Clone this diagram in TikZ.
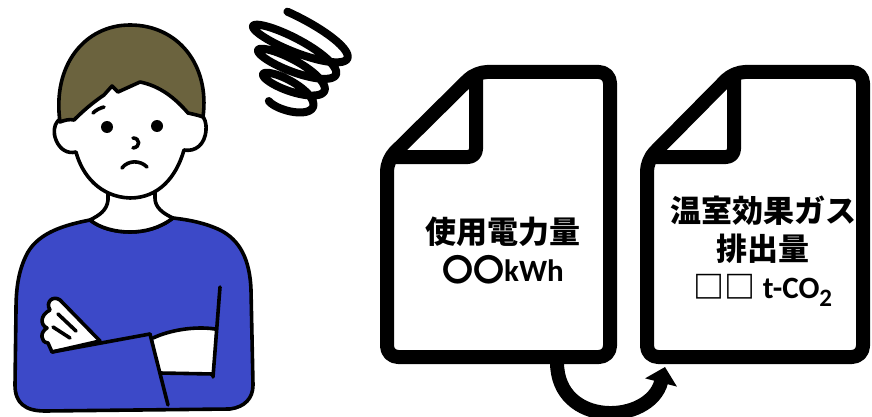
\documentclass[tikz,border=0pt]{standalone}
\usepackage{fontspec}
\setmainfont{Carlito}
\newfontfamily\jp{Noto Sans CJK JP}
\usetikzlibrary{arrows.meta}
\definecolor{hair}{RGB}{107,99,62}
\definecolor{shirt}{RGB}{60,73,200}
\newcommand{\subtwo}{\raisebox{-8pt}{\fontsize{25}{25}\selectfont 2}}
\begin{document}
\begin{tikzpicture}[x=1pt,y=-1pt,
  outline/.style={draw=black,line width=3.6pt,line join=round,line cap=round},
  docshape/.style={draw=black,fill=white,line width=14pt,line join=round,rounded corners=11pt},
  foldline/.style={draw=black,line width=14pt,line join=round,rounded corners=8pt},
  doctext/.style={align=center,font=\fontsize{31}{38}\selectfont\bfseries,inner sep=0pt},
  declare function={sp(\u)=(\u-250)/1340;}]
\useasboundingbox (0,0) rectangle (872,417);

% ---- worried person ----
% body
\filldraw[fill=shirt,outline] (90,220) .. controls (65,225) and (40,232) .. (28,252)
  .. controls (18,270) and (16,290) .. (16,310) -- (15,385)
  .. controls (15,403) and (25,411) .. (45,411) -- (230,409)
  .. controls (245,407) and (253,398) .. (253,385) -- (251,290)
  .. controls (250,260) and (240,240) .. (220,230)
  .. controls (205,223) and (190,220) .. (173,218)
  .. controls (160,228) and (145,232) .. (130,232)
  .. controls (115,232) and (100,228) .. (90,220) -- cycle;
% neck
\fill[white] (108,185) -- (108,200) .. controls (107,210) and (100,215) .. (90,220)
  .. controls (100,228) and (115,232) .. (130,232)
  .. controls (145,232) and (160,228) .. (173,218)
  .. controls (162,213) and (155,207) .. (155,198) -- (155,180) -- cycle;
\draw[outline] (108,188) -- (108,200) .. controls (107,210) and (100,215) .. (90,220)
  .. controls (100,228) and (115,232) .. (130,232)
  .. controls (145,232) and (160,228) .. (173,218)
  .. controls (162,213) and (155,207) .. (155,198) -- (155,188);
% face with ears
\filldraw[fill=white,outline] (75,118) .. controls (60,112) and (50,125) .. (56,140)
  .. controls (60,150) and (68,154) .. (76,152)
  .. controls (82,175) and (100,197) .. (130,198)
  .. controls (158,198) and (176,178) .. (184,150)
  .. controls (195,152) and (205,145) .. (206,130)
  .. controls (207,115) and (198,110) .. (188,113)
  .. controls (180,60) and (80,60) .. (75,118) -- cycle;
% hair
\filldraw[fill=hair,outline] (60,122) .. controls (52,65) and (85,25) .. (130,25)
  .. controls (178,25) and (210,65) .. (203,117)
  .. controls (198,115) and (192,114) .. (188,113)
  .. controls (175,98) and (160,86) .. (140,82) -- (118,92) -- (112,86) -- (104,95)
  .. controls (92,103) and (82,112) .. (74,120)
  .. controls (70,119) and (65,120) .. (60,122) -- cycle;
% face details
\fill (107,127) circle[radius=6];
\fill (157,126) circle[radius=6];
\draw[outline] (93,113) .. controls (96,110) and (100,108) .. (104,107);
\draw[outline] (133,138) .. controls (140,138) and (141,147) .. (133,148);
\draw[outline] (122,168) .. controls (128,160) and (140,160) .. (147,167);
% crossed arms
\filldraw[fill=white,outline] (100,341) -- (60,300) .. controls (53,295) and (45,302) .. (50,310)
  .. controls (40,315) and (40,325) .. (47,328)
  .. controls (40,332) and (40,342) .. (48,343) -- (52,352) -- cycle;
\draw[outline] (58,314) -- (76,331);
\draw[outline] (53,327) -- (70,338);
\draw[outline] (52,352) -- (150,334);
\fill[white] (153,338) .. controls (170,330) and (195,326) .. (215,329) -- (213,374) -- (160,372) -- cycle;
\draw[outline] (153,338) .. controls (170,330) and (195,326) .. (215,329);
\draw[outline] (160,373) -- (213,374);
\draw[outline] (220,287) -- (213,377);
\draw[outline] (150,334) -- (168,405);

% ---- scribble: a tilted spiral narrowing downwards ----
\draw[line width=8pt,line cap=round,line join=round]
  plot[variable=\u,domain=250:1590,samples=360]
  ({300-12*sp(\u)+(56-34*sp(\u))*cos(\u)*cos(25)-(12-3*sp(\u))*sin(\u)*sin(25)},
   {30+75*sp(\u)+(56-34*sp(\u))*cos(\u)*sin(25)+(12-3*sp(\u))*sin(\u)*cos(25)});

% ---- documents with folded corner ----
\draw[docshape] (540,72) -- (610,72) -- (610,357) -- (387,357) -- (387,160) -- (476,72) -- cycle;
\draw[foldline] (476,76) -- (476,157) -- (392,157);
\draw[docshape] (800,72) -- (863,72) -- (863,357) -- (647,357) -- (647,160) -- (734,72) -- cycle;
\draw[foldline] (734,76) -- (734,157) -- (652,157);

\node[doctext] (usage) at (503,251) {{\jp 使用電力量}\\{\jp 〇〇}kWh};
\node[doctext] (ghg) at (763,251) {{\jp 温室効果ガス}\\{\jp 排出量}\\{\jp □□} t-CO\subtwo};

% ---- conversion arrow ----
\coordinate (arrowstart) at (557,362);
\coordinate (arrowend) at (665,367);
\draw[line width=14pt,-{Triangle[length=16pt,width=32pt]}]
  (arrowstart) .. controls (557,428) and (650,425) .. (arrowend);
\end{tikzpicture}
\end{document}
